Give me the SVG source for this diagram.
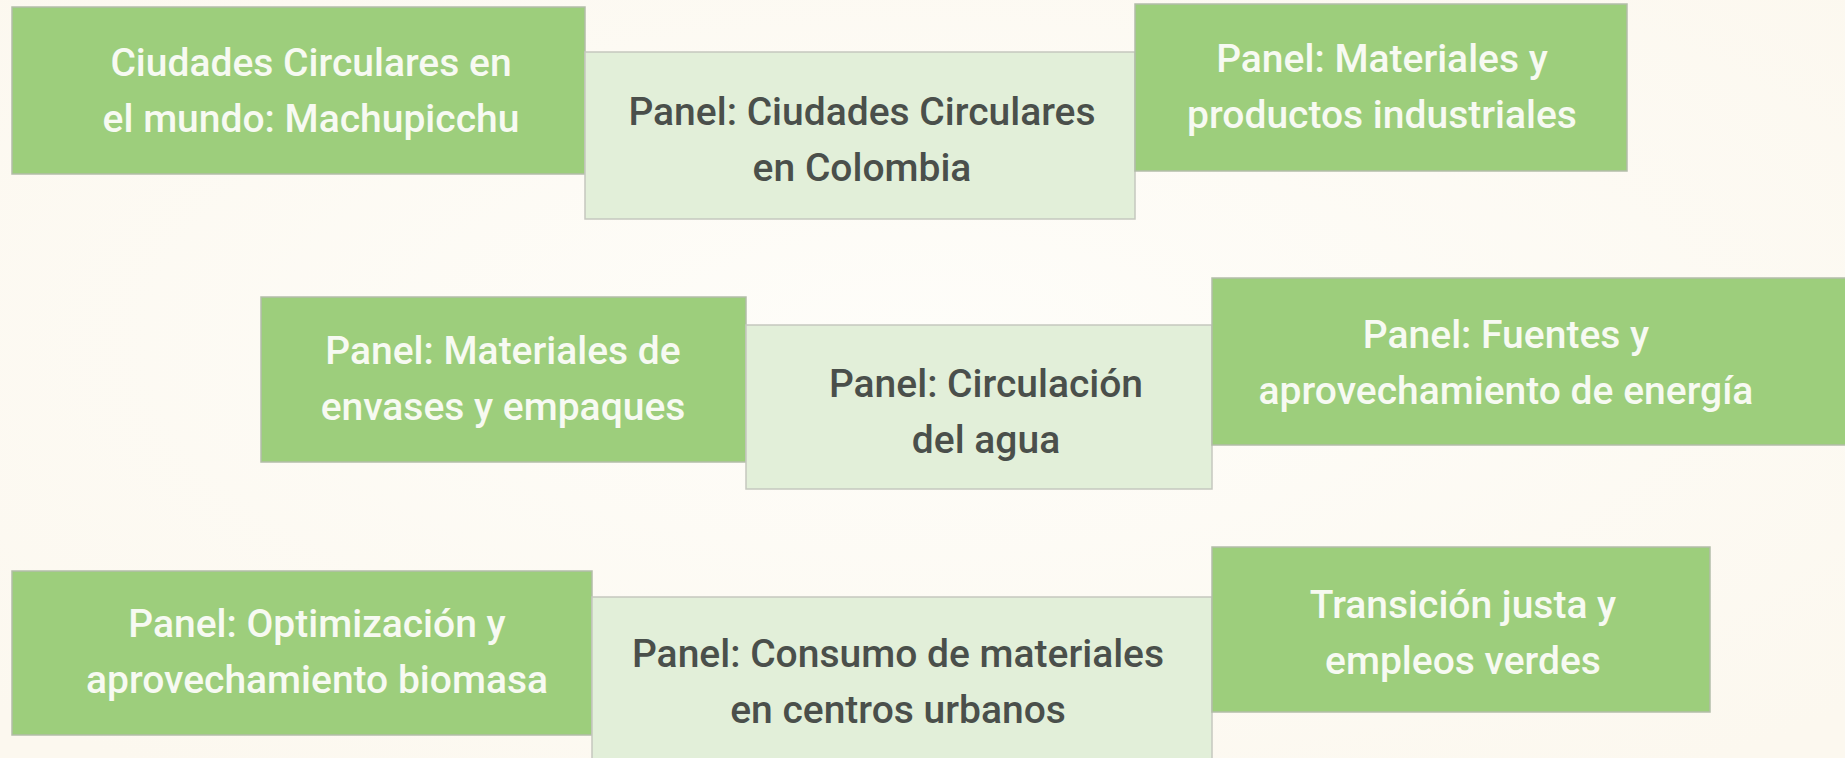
<svg xmlns="http://www.w3.org/2000/svg" width="1845" height="758" viewBox="0 0 1845 758">
<defs>
<radialGradient id="bg" cx="50%" cy="45%" r="70%">
<stop offset="0" stop-color="#fefdf9"/>
<stop offset="1" stop-color="#fcf8ef"/>
</radialGradient>
<style>
.dk{fill:#9dce7c;stroke:#b3bda9;stroke-width:1.5}
.lt{fill:#e2efd9;stroke:#c5c8bf;stroke-width:1.5}
text{font-family:Roboto,"Liberation Sans",Arial,sans-serif;font-weight:500;font-size:39px;text-anchor:middle}
.w{fill:#f7faf2}
.g{fill:#4a4f4b}
</style>
</defs>
<rect width="1845" height="758" fill="url(#bg)"/>
<g id="nodes">
<g id="n1"><rect class="dk" x="12" y="7" width="573" height="167"/>
<text class="w" x="311" y="76">Ciudades Circulares en</text><text class="w" x="311" y="132">el mundo: Machupicchu</text></g>
<g id="n2"><rect class="lt" x="585" y="52" width="550" height="167"/>
<text class="g" x="862" y="125">Panel: Ciudades Circulares</text><text class="g" x="862" y="181">en Colombia</text></g>
<g id="n3"><rect class="dk" x="1135" y="4" width="492" height="167"/>
<text class="w" x="1382" y="72">Panel: Materiales y</text><text class="w" x="1382" y="128">productos industriales</text></g>
<g id="n4"><rect class="dk" x="261" y="297" width="485" height="165"/>
<text class="w" x="503" y="364">Panel: Materiales de</text><text class="w" x="503" y="420">envases y empaques</text></g>
<g id="n5"><rect class="lt" x="746" y="325" width="466" height="164"/>
<text class="g" x="986" y="397">Panel: Circulación</text><text class="g" x="986" y="453">del agua</text></g>
<g id="n6"><rect class="dk" x="1212" y="278" width="640" height="167"/>
<text class="w" x="1506" y="348">Panel: Fuentes y</text><text class="w" x="1506" y="404">aprovechamiento de energía</text></g>
<g id="n7"><rect class="dk" x="12" y="571" width="580" height="164"/>
<text class="w" x="317" y="637">Panel: Optimización y</text><text class="w" x="317" y="693">aprovechamiento biomasa</text></g>
<g id="n8"><rect class="lt" x="592" y="597" width="620" height="165"/>
<text class="g" x="898" y="667">Panel: Consumo de materiales</text><text class="g" x="898" y="723">en centros urbanos</text></g>
<g id="n9"><rect class="dk" x="1212" y="547" width="498" height="165"/>
<text class="w" x="1463" y="618">Transición justa y</text><text class="w" x="1463" y="674">empleos verdes</text></g>
</g>
<g id="connectors"></g>
</svg>
